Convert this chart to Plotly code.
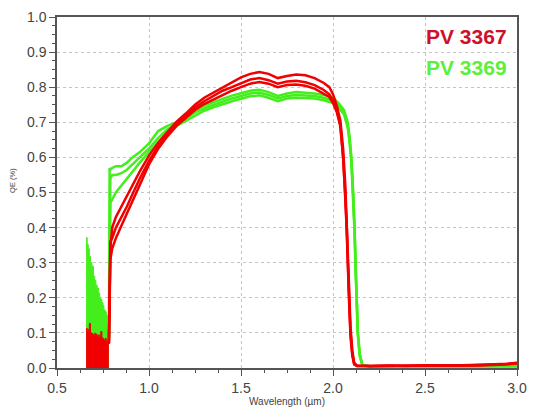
import plotly.graph_objects as go

# ---------------- data ----------------
# low-wavelength noisy region (envelope)
x_low = [0.658, 0.664, 0.670, 0.676, 0.682, 0.690, 0.698, 0.705, 0.711, 0.718, 0.725, 0.732,
         0.738, 0.744, 0.750, 0.755, 0.762, 0.768, 0.774, 0.778, 0.782]
red_low = [0.113, 0.104, 0.110, 0.127, 0.100, 0.097, 0.092, 0.099, 0.096, 0.090, 0.094, 0.089,
           0.104, 0.086, 0.083, 0.079, 0.084, 0.076, 0.072, 0.070, 0.068]
green_low = [0.371, 0.352, 0.340, 0.318, 0.300, 0.290, 0.262, 0.250, 0.236, 0.228, 0.214, 0.200,
             0.195, 0.186, 0.178, 0.165, 0.160, 0.150, 0.132, 0.100, 0.079]

# PV 3367 (red) main curves
red_x = [0.782, 0.786, 0.79, 0.80, 0.82, 0.85, 0.88, 0.91, 0.95, 1.0, 1.05, 1.1, 1.15, 1.2,
         1.25, 1.3, 1.35, 1.4, 1.45, 1.5, 1.55, 1.6, 1.65, 1.7, 1.75, 1.8, 1.85, 1.9, 1.95,
         1.98, 2.0, 2.02, 2.04, 2.055, 2.067, 2.075, 2.085, 2.095, 2.105, 2.115, 2.13, 2.2,
         2.3, 2.4, 2.5, 2.6, 2.7, 2.8, 2.9, 2.95, 3.0]
red_1 = [0.07, 0.31, 0.34, 0.40, 0.43, 0.46, 0.49, 0.52, 0.56, 0.605, 0.642, 0.672, 0.702,
         0.725, 0.75, 0.77, 0.785, 0.80, 0.815, 0.828, 0.838, 0.843, 0.838, 0.826, 0.832,
         0.836, 0.834, 0.826, 0.812, 0.80, 0.78, 0.748, 0.705, 0.625, 0.52, 0.41, 0.26,
         0.12, 0.05, 0.015, 0.007, 0.006, 0.007, 0.006, 0.008, 0.007, 0.008, 0.009, 0.010,
         0.012, 0.015]
red_2 = [0.07, 0.33, 0.36, 0.37, 0.40, 0.43, 0.46, 0.495, 0.54, 0.59, 0.632, 0.665, 0.695,
         0.72, 0.742, 0.76, 0.775, 0.79, 0.80, 0.812, 0.822, 0.826, 0.82, 0.81, 0.816, 0.818,
         0.814, 0.806, 0.792, 0.78, 0.762, 0.735, 0.69, 0.60, 0.50, 0.40, 0.22, 0.09, 0.035,
         0.010, 0.006, 0.005, 0.006, 0.007, 0.006, 0.008, 0.007, 0.008, 0.010, 0.011, 0.013]
red_3 = [0.07, 0.29, 0.31, 0.34, 0.37, 0.405, 0.44, 0.475, 0.525, 0.58, 0.625, 0.66, 0.69,
         0.713, 0.735, 0.752, 0.765, 0.778, 0.79, 0.80, 0.81, 0.815, 0.81, 0.80, 0.806, 0.808,
         0.804, 0.796, 0.782, 0.772, 0.755, 0.73, 0.69, 0.60, 0.49, 0.39, 0.23, 0.10, 0.04,
         0.012, 0.006, 0.006, 0.005, 0.007, 0.006, 0.007, 0.008, 0.007, 0.009, 0.012, 0.014]

# PV 3369 (green) main curves
green_x = [0.782, 0.786, 0.79, 0.80, 0.82, 0.85, 0.88, 0.91, 0.95, 1.0, 1.05, 1.1, 1.15, 1.2,
           1.25, 1.3, 1.35, 1.4, 1.45, 1.5, 1.55, 1.6, 1.65, 1.7, 1.75, 1.8, 1.85, 1.9, 1.95,
           2.0, 2.03, 2.06, 2.08, 2.09, 2.10, 2.11, 2.117, 2.122, 2.128, 2.135, 2.145, 2.16,
           2.2, 2.3, 2.5, 2.7, 3.0]
green_1 = [0.079, 0.57, 0.565, 0.57, 0.575, 0.575, 0.585, 0.60, 0.615, 0.64, 0.675, 0.69,
           0.70, 0.718, 0.735, 0.748, 0.758, 0.768, 0.776, 0.783, 0.79, 0.793, 0.786, 0.775,
           0.782, 0.786, 0.785, 0.782, 0.778, 0.77, 0.755, 0.735, 0.70, 0.66, 0.60, 0.50,
           0.40, 0.30, 0.20, 0.10, 0.04, 0.008, 0.005, 0.005, 0.005, 0.005, 0.005]
green_2 = [0.079, 0.53, 0.54, 0.55, 0.55, 0.555, 0.565, 0.58, 0.60, 0.625, 0.655, 0.68,
           0.695, 0.712, 0.728, 0.74, 0.75, 0.76, 0.768, 0.775, 0.782, 0.785, 0.778, 0.768,
           0.775, 0.778, 0.777, 0.775, 0.77, 0.762, 0.748, 0.728, 0.69, 0.65, 0.59, 0.50,
           0.40, 0.30, 0.20, 0.10, 0.04, 0.008, 0.005, 0.005, 0.005, 0.005, 0.005]
green_3 = [0.079, 0.46, 0.47, 0.48, 0.50, 0.52, 0.54, 0.56, 0.585, 0.615, 0.645, 0.672,
           0.69, 0.705, 0.72, 0.733, 0.743, 0.752, 0.76, 0.767, 0.774, 0.777, 0.77, 0.76,
           0.768, 0.77, 0.77, 0.768, 0.763, 0.755, 0.742, 0.722, 0.685, 0.645, 0.585, 0.49,
           0.39, 0.29, 0.19, 0.095, 0.035, 0.008, 0.005, 0.005, 0.005, 0.005, 0.005]

x_ticks = [0.5, 1.0, 1.5, 2.0, 2.5, 3.0]
y_ticks = [0.0, 0.1, 0.2, 0.3, 0.4, 0.5, 0.6, 0.7, 0.8, 0.9, 1.0]
labels = ["PV 3367", "PV 3369"]

# ---------------- styles ----------------
RED = "#f00000"
GREEN = "#44ee1c"
FONT = "Liberation Sans, Arial, sans-serif"

fig = go.Figure()

# green first (behind)
fig.add_trace(go.Scatter(x=x_low, y=green_low, mode="lines", line=dict(color=GREEN, width=1, shape="hv"),
                         fill="tozeroy", fillcolor=GREEN, hoverinfo="skip", showlegend=False))
for g in (green_1, green_2, green_3):
    fig.add_trace(go.Scatter(x=green_x, y=g, mode="lines", line=dict(color=GREEN, width=2.5),
                             showlegend=False))

fig.add_trace(go.Scatter(x=x_low, y=red_low, mode="lines", line=dict(color=RED, width=1, shape="hv"),
                         fill="tozeroy", fillcolor=RED, hoverinfo="skip", showlegend=False))
for r in (red_1, red_2, red_3):
    fig.add_trace(go.Scatter(x=red_x, y=r, mode="lines", line=dict(color=RED, width=2.5),
                             showlegend=False))

axis_common = dict(
    showline=True, linecolor="#555555", linewidth=1.5, mirror=True,
    ticks="outside", ticklen=6, tickwidth=1, tickcolor="#555555",
    showgrid=True, gridcolor="#c4c4c4", griddash="3px,3px", gridwidth=1,
    zeroline=False, tickfont=dict(family=FONT, size=14, color="#444444"),
    tickformat=".1f",
)

fig.update_xaxes(range=[0.5, 3.0], tickvals=x_ticks,
                 minor=dict(dtick=0.125, ticklen=3, tickcolor="#555555", showgrid=False, ticks="outside"),
                 **axis_common)
fig.update_yaxes(range=[0.0, 1.0], tickvals=y_ticks,
                 minor=dict(dtick=0.025, ticklen=3, tickcolor="#555555", showgrid=False, ticks="outside"),
                 **axis_common)

fig.add_annotation(text="Wavelength (µm)", xref="paper", yref="paper", x=0.5, y=-0.096,
                   showarrow=False, font=dict(family=FONT, size=10, color="#444444"),
                   xanchor="center", yanchor="middle")
fig.add_annotation(text="QE (%)", xref="paper", yref="paper", x=-0.097, y=0.534,
                   textangle=-90, showarrow=False, font=dict(family=FONT, size=7.5, color="#444444"),
                   xanchor="center", yanchor="middle")

fig.add_annotation(text="<b>%s</b>" % labels[0], xref="paper", yref="paper", x=0.983, y=0.945,
                   showarrow=False, font=dict(family=FONT, size=21, color="#d0102a"),
                   xanchor="right", yanchor="middle")
fig.add_annotation(text="<b>%s</b>" % labels[1], xref="paper", yref="paper", x=0.983, y=0.856,
                   showarrow=False, font=dict(family=FONT, size=21, color="#5cf03a"),
                   xanchor="right", yanchor="middle")

fig.update_layout(width=536, height=416, margin=dict(l=57, r=9, t=14, b=48),
                  paper_bgcolor="white", plot_bgcolor="white", showlegend=False)

fig.write_html("out.html")
